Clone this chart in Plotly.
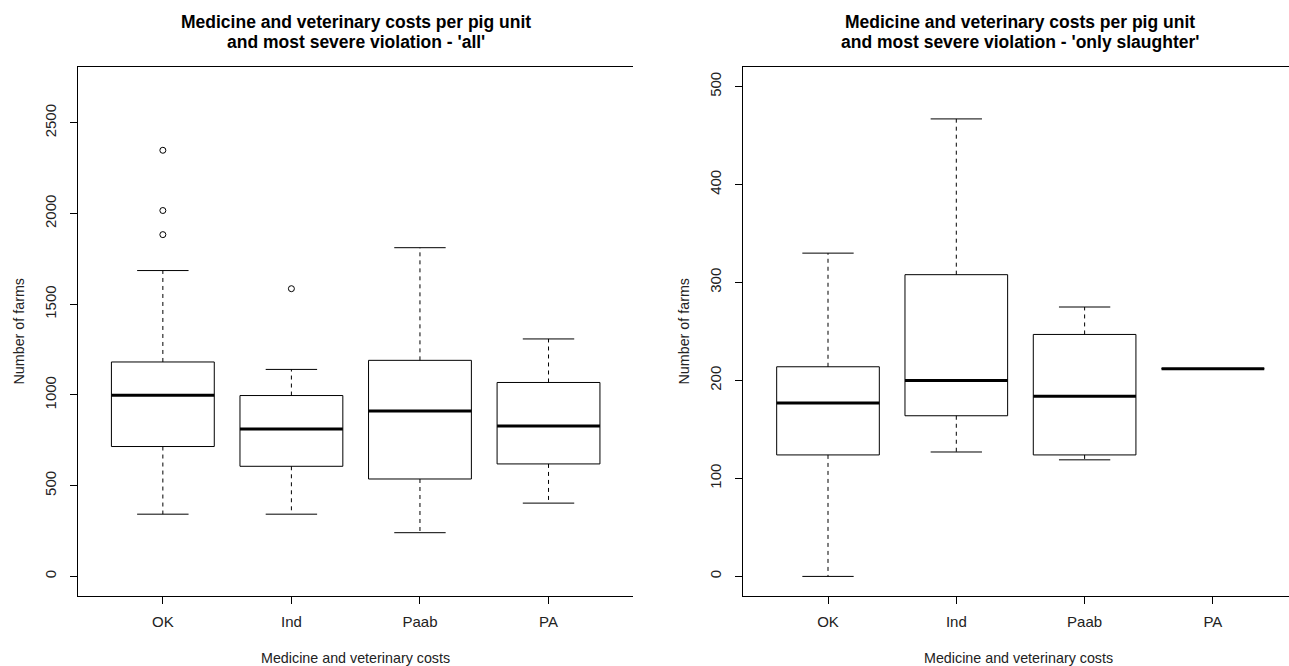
import plotly.graph_objects as go

categories = ["OK", "Ind", "Paab", "PA"]

# Left panel: 'all'
all_lower = [343, 343, 241, 404]
all_q1 = [716, 607, 537, 620]
all_median = [999, 812, 912, 829]
all_q3 = [1182, 997, 1191, 1069]
all_upper = [1686, 1141, 1812, 1309]
all_outliers = [[1884, 2017, 2349], [1586], [], []]

# Right panel: 'only slaughter'
sl_lower = [0, 127, 119, 212]
sl_q1 = [124, 164, 124, 212]
sl_median = [177, 200, 184, 212]
sl_q3 = [214, 308, 247, 212]
sl_upper = [330, 467, 275, 212]
sl_outliers = [[], [], [], []]

y_ticks_all = [0, 500, 1000, 1500, 2000, 2500]
y_ticks_sl = [0, 100, 200, 300, 400, 500]

FONT = "Liberation Sans, Arial, sans-serif"
HW = 0.4   # box half-width
CW = 0.2   # cap half-width

fig = go.Figure()


def add_boxes(lower, q1, med, q3, upper, outl, xa, ya):
    for i in range(len(categories)):
        x = i + 1
        # whiskers (dashed)
        fig.add_trace(go.Scatter(x=[x, x, None, x, x], y=[q3[i], upper[i], None, q1[i], lower[i]],
                                 mode="lines", line=dict(color="black", width=1, dash="4px,4px"),
                                 xaxis=xa, yaxis=ya, showlegend=False, hoverinfo="skip"))
        # caps
        fig.add_trace(go.Scatter(x=[x - CW, x + CW, None, x - CW, x + CW],
                                 y=[upper[i], upper[i], None, lower[i], lower[i]],
                                 mode="lines", line=dict(color="black", width=1),
                                 xaxis=xa, yaxis=ya, showlegend=False, hoverinfo="skip"))
        # box
        fig.add_trace(go.Scatter(x=[x - HW, x + HW, x + HW, x - HW, x - HW],
                                 y=[q1[i], q1[i], q3[i], q3[i], q1[i]],
                                 mode="lines", line=dict(color="black", width=1),
                                 xaxis=xa, yaxis=ya, showlegend=False, hoverinfo="skip"))
        # median
        fig.add_trace(go.Scatter(x=[x - HW, x + HW], y=[med[i], med[i]],
                                 mode="lines", line=dict(color="black", width=3),
                                 xaxis=xa, yaxis=ya, showlegend=False, hoverinfo="skip"))
        if outl[i]:
            fig.add_trace(go.Scatter(x=[x] * len(outl[i]), y=outl[i], mode="markers",
                                     marker=dict(symbol="circle-open", size=6, color="black",
                                                 line=dict(width=1)),
                                     xaxis=xa, yaxis=ya, showlegend=False, hoverinfo="skip"))


add_boxes(all_lower, all_q1, all_median, all_q3, all_upper, all_outliers, "x", "y")
add_boxes(sl_lower, sl_q1, sl_median, sl_q3, sl_upper, sl_outliers, "x2", "y2")

xcommon = dict(tickvals=[1, 2, 3, 4], ticktext=categories, ticks="outside", ticklen=7,
               tickcolor="black", showgrid=False, zeroline=False, showline=True,
               linecolor="black", linewidth=1, mirror=True,
               tickfont=dict(family=FONT, size=15, color="#222"), ticklabelstandoff=5)
ycommon = dict(ticks="outside", ticklen=7, tickcolor="black", showgrid=False, zeroline=False,
               showline=True, linecolor="black", linewidth=1, tickangle=-90,
               tickfont=dict(family=FONT, size=15, color="#222"), ticklabelstandoff=8)

fig.update_layout(
    width=1289, height=666,
    margin=dict(l=78, r=0, t=67, b=70),
    plot_bgcolor="white", paper_bgcolor="white",
    xaxis=dict(domain=[0, 0.4586], range=[0.34, 4.66], **xcommon),
    xaxis2=dict(domain=[0.5494, 1], range=[0.34, 4.593], anchor="y2", **xcommon),
    yaxis=dict(range=[-108, 2808], tickvals=y_ticks_all, **ycommon),
    yaxis2=dict(range=[-20, 520], tickvals=y_ticks_sl, anchor="x2", **ycommon),
)


def px_x(p):
    return (p - 78) / 1211


def px_y(p):
    return (596 - p) / 529


ann = []
titles = [
    (355.5, ["Medicine and veterinary costs per pig unit", "and most severe violation - 'all'"]),
    (1020, ["Medicine and veterinary costs per pig unit", "and most severe violation - 'only slaughter'"]),
]
for cx, lines in titles:
    for j, t in enumerate(lines):
        ann.append(dict(text="<b>" + t + "</b>", x=px_x(cx), y=px_y(22 + 20.5 * j), xref="paper", yref="paper",
                        showarrow=False, xanchor="center", yanchor="middle",
                        font=dict(family=FONT, size=17.5, color="black")))
for cx in (355.5, 1018):
    ann.append(dict(text="Medicine and veterinary costs", x=px_x(cx), y=px_y(658), xref="paper", yref="paper",
                    showarrow=False, xanchor="center", yanchor="middle",
                    font=dict(family=FONT, size=14.3, color="#222")))
for cx in (18, 683):
    ann.append(dict(text="Number of farms", x=px_x(cx), y=0.5, xref="paper", yref="paper",
                    showarrow=False, xanchor="center", yanchor="middle", textangle=-90,
                    font=dict(family=FONT, size=14.3, color="#222")))
fig.update_layout(annotations=ann)

fig.write_html("out.html", config={"displayModeBar": False},
               post_script="document.body.style.margin='0';document.body.style.overflow='hidden';")
